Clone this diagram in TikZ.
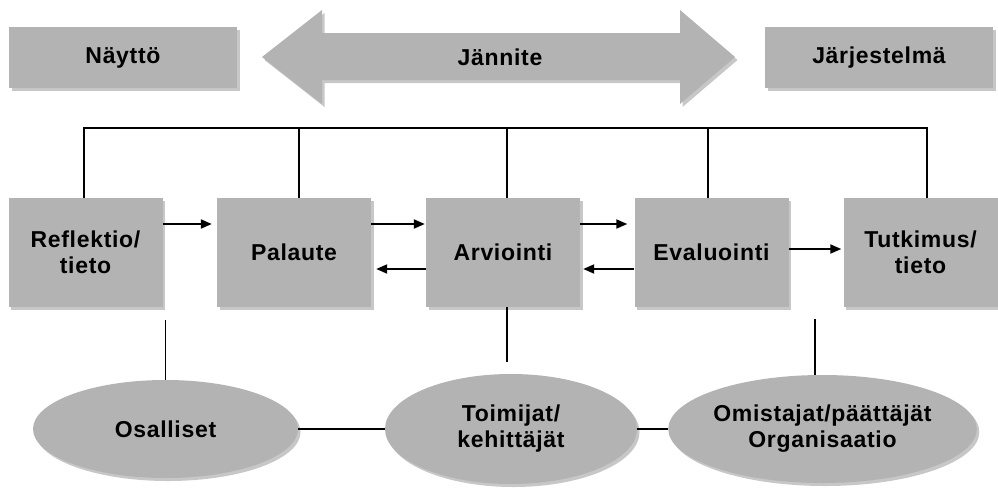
\documentclass[tikz,border=0pt]{standalone}
\usepackage{fontspec}
\setmainfont{Liberation Sans}[LetterSpace=3]
\usepackage{tikz}
\usetikzlibrary{arrows.meta,shadows,shapes.geometric}
\definecolor{boxgray}{RGB}{179,179,179}

\begin{document}
\begin{tikzpicture}[x=1pt,y=-1pt,
  boxshadow/.style={drop shadow={shadow xshift=2.5pt,shadow yshift=-3pt,fill=black,opacity=0.22}},
  box/.style={rectangle,fill=boxgray,boxshadow,minimum width=154pt,minimum height=109pt,align=center,inner sep=0pt},
  topbox/.style={rectangle,fill=boxgray,boxshadow,minimum width=228pt,minimum height=61pt,inner sep=0pt},
  oval/.style={ellipse,fill=boxgray,boxshadow,align=center,inner sep=0pt},
  link/.style={line width=1.9pt},
  flow/.style={line width=1.9pt,-{Triangle[length=11pt,width=9pt]}},
  font=\fontsize{23}{26}\selectfont\bfseries]
\useasboundingbox (0,0) rectangle (998,490);
% ---- top row: the tension between evidence and system ----
\fill[boxgray,boxshadow] (262,57) -- (322,10) -- (322,33) -- (680,33) -- (680,10) -- (735,57)
  -- (680,104) -- (680,80) -- (322,80) -- (322,104) -- cycle;
\node (jannite) at (500,57) {Jännite};
\node[topbox] (naytto) at (123,57.5) {Näyttö};
\node[topbox] (jarj) at (879,57.5) {Järjestelmä};
% ---- middle row ----
\node[box] (refl) at (85.5,252.5) {Reflektio/\\tieto};
\node[box] (pal) at (294,252.5) {Palaute};
\node[box] (arv) at (503,252.5) {Arviointi};
\node[box] (eval) at (711.5,252.5) {Evaluointi};
\node[box] (tutk) at (920.5,252.5) {Tutkimus/\\tieto};
\coordinate (bus) at (0,128);
\draw[link] ([xshift=-1.5pt]refl.north) |- ([xshift=6.5pt]tutk.north |- bus) -- ([xshift=6.5pt]tutk.north);
\draw[link] ([xshift=5pt]pal.north) -- ([xshift=5pt]pal.north |- bus);
\draw[link] ([xshift=4pt]arv.north) -- ([xshift=4pt]arv.north |- bus);
\draw[link] ([xshift=-3.5pt]eval.north) -- ([xshift=-3.5pt]eval.north |- bus);
\draw[flow] ([yshift=28.5pt]refl.east) -- ([xshift=-5pt,yshift=28.5pt]pal.west);
\draw[flow] ([yshift=28.5pt]pal.east) -- ([xshift=-1pt,yshift=28.5pt]arv.west);
\draw[flow] ([yshift=-16.5pt]arv.west) -- ([xshift=5pt,yshift=-16.5pt]pal.east);
\draw[flow] ([yshift=28.5pt]arv.east) -- ([xshift=-7pt,yshift=28.5pt]eval.west);
\draw[flow] ([yshift=-16.5pt]eval.west) -- ([xshift=3pt,yshift=-16.5pt]arv.east);
\draw[flow] ([yshift=3.5pt]eval.east) -- ([xshift=-2pt,yshift=3.5pt]tutk.west);
% ---- bottom row: the people ----
\node[oval,minimum width=265pt,minimum height=98pt] (osal) at (165.5,429) {Osalliset};
\node[oval,minimum width=252pt,minimum height=110pt] (toim) at (511,429) {Toimijat/\\kehittäjät};
\node[oval,minimum width=285pt,minimum height=108pt] (omis) at (822.5,429) {Omistajat/päättäjät\\Organisaatio};
\draw[link] (osal.east) -- (toim.west);
\draw[link] (toim.east) -- (omis.west);
\draw[link] (osal.north) -- ++(0,-60);
\draw[link] ([xshift=4pt]arv.south) -- ++(0,55);
\draw[link] ([xshift=-7.5pt]omis.north) -- ++(0,-56);
\end{tikzpicture}
\end{document}
